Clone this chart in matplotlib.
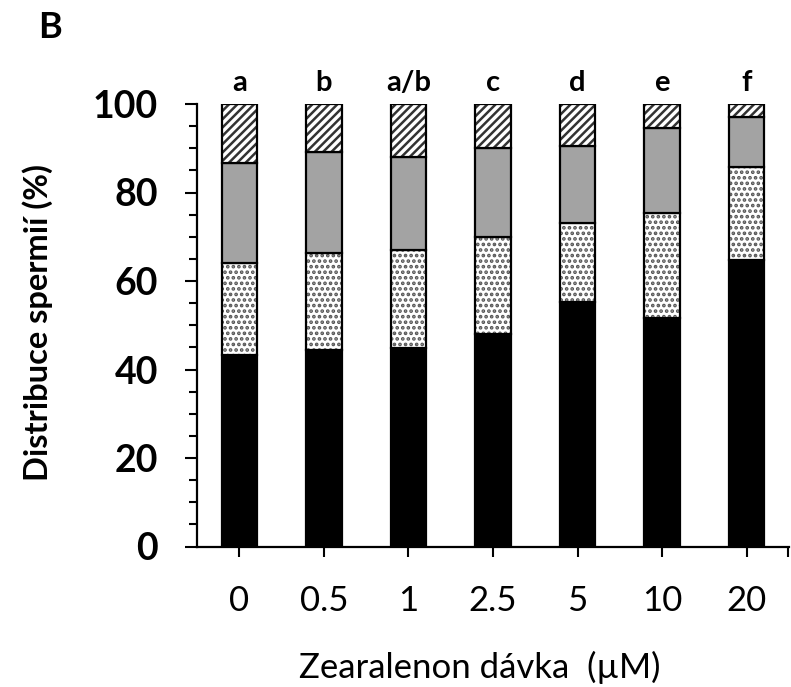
import matplotlib.pyplot as plt
from matplotlib.ticker import MultipleLocator, FixedLocator

# doses (uM) and stacked percentages, bottom to top
doses = ['0', '0.5', '1', '2.5', '5', '10', '20']
black = [43.3, 44.3, 44.9, 48.1, 55.3, 51.6, 64.7]
dotted = [20.7, 22.0, 22.1, 21.9, 17.7, 23.7, 21.1]
gray = [22.7, 22.9, 21.1, 20.0, 17.4, 19.2, 11.3]
hatched = [13.3, 10.8, 11.9, 10.0, 9.6, 5.5, 2.9]
letters = ['a', 'b', 'a/b', 'c', 'd', 'e', 'f']

plt.rcParams['font.family'] = ['Lato', 'DejaVu Sans']
plt.rcParams['hatch.linewidth'] = 1.8

fig = plt.figure(figsize=(7.91, 6.87), dpi=100)
ax = fig.add_axes([197 / 791, 1 - 546.5 / 687, 592 / 791, 442.5 / 687])

x = list(range(len(doses)))
w = 0.42
b1 = black
b2 = [a + b for a, b in zip(b1, dotted)]
b3 = [a + b for a, b in zip(b2, gray)]

ax.bar(x, black, w, color='black', edgecolor='black', linewidth=1.6)
ax.bar(x, dotted, w, bottom=b1, color='white', edgecolor='#555555', hatch='...', linewidth=0)
ax.bar(x, dotted, w, bottom=b1, color='none', edgecolor='black', linewidth=1.6)
ax.bar(x, gray, w, bottom=b2, color='#a3a3a3', edgecolor='black', linewidth=1.6)
ax.bar(x, hatched, w, bottom=b3, color='white', edgecolor='#333333', hatch='////', linewidth=0)
ax.bar(x, hatched, w, bottom=b3, color='none', edgecolor='black', linewidth=1.6)

for xi, lab in zip(x, letters):
    ax.text(xi, 104.7, lab, ha='center', va='center', fontsize=21, fontweight='bold',
            clip_on=False)

ax.set_xlim(-0.5, 6.5)
ax.set_ylim(0, 100)
ax.set_xticks(x)
ax.set_xticklabels(doses, fontsize=25)
ax.xaxis.set_minor_locator(FixedLocator([6.49]))
ax.yaxis.set_major_locator(MultipleLocator(20))
ax.yaxis.set_minor_locator(MultipleLocator(5))
for lab in ax.get_yticklabels():
    lab.set_fontsize(27)
    lab.set_fontweight('bold')

ax.tick_params(axis='y', which='major', direction='out', length=9, width=1.5, pad=19)
ax.tick_params(axis='y', which='minor', direction='out', length=6, width=1.5)
ax.tick_params(axis='x', which='both', direction='out', length=7, width=1.5, pad=21)

for s in ['top', 'right']:
    ax.spines[s].set_visible(False)
for s in ['left', 'bottom']:
    ax.spines[s].set_linewidth(1.6)

fig.text(38 / 791, 1 - 323 / 687, 'Distribuce spermií (%)', rotation=90,
         ha='center', va='center', fontsize=23.5, fontweight='bold')
fig.text(480 / 791, 1 - 667 / 687, 'Zearalenon dávka  (µM)',
         ha='center', va='center', fontsize=25)
fig.text(50 / 791, 1 - 28 / 687, 'B', ha='center', va='center',
         fontsize=26, fontweight='bold')

fig.savefig('out.png', dpi=100)
